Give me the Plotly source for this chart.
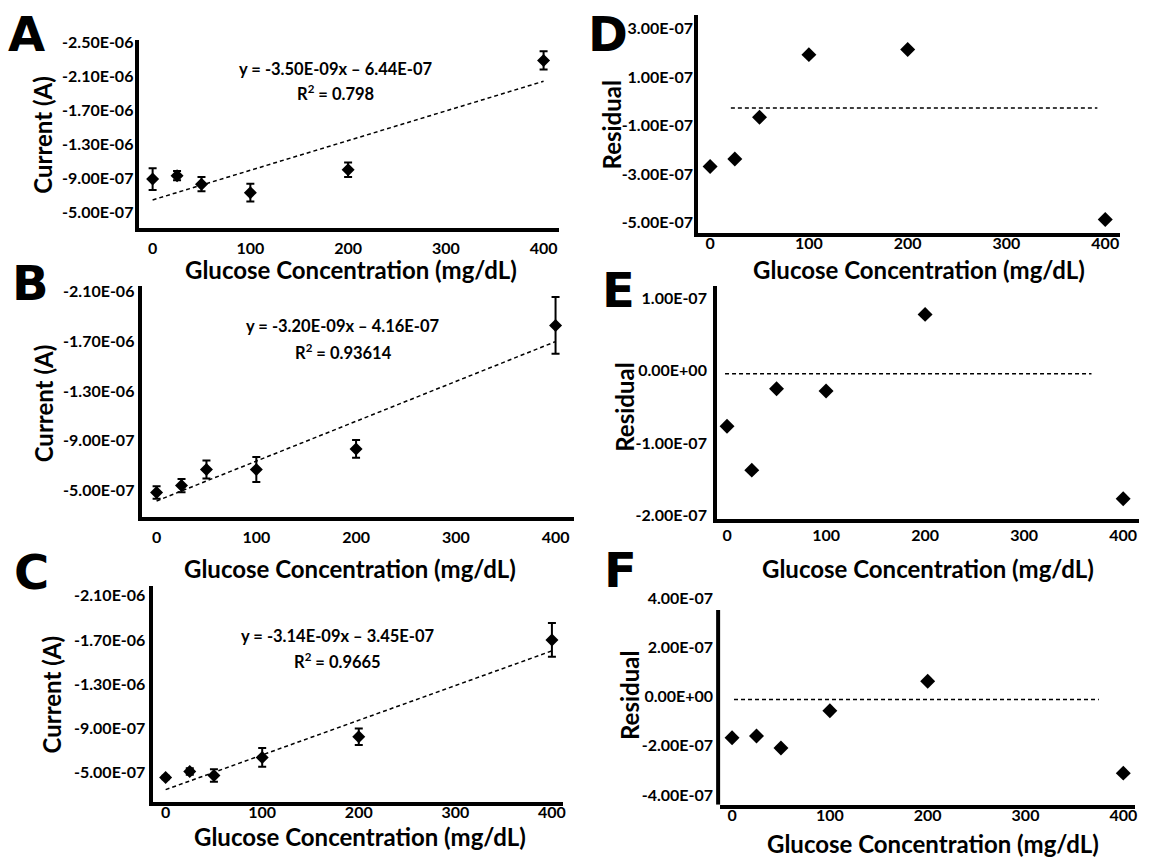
import plotly.graph_objects as go

W, H = 1151, 863

# ---------------- data ----------------
glucose = [0, 25, 50, 100, 200, 400]

current_A = [-8.9e-7, -9.3e-7, -8.3e-7, -7.3e-7, -1.0e-6, -2.29e-6]
error_A = [1.28e-7, 0.54e-7, 0.85e-7, 1.04e-7, 0.85e-7, 1.08e-7]
current_B = [-4.84e-7, -5.39e-7, -6.68e-7, -6.68e-7, -8.34e-7, -1.826e-6]
error_B = [0.5e-7, 0.53e-7, 0.72e-7, 1.0e-7, 0.72e-7, 2.28e-7]
current_C = [-4.55e-7, -5.09e-7, -4.73e-7, -6.37e-7, -8.24e-7, -1.70e-6]
error_C = [0.15e-7, 0.3e-7, 0.56e-7, 0.85e-7, 0.74e-7, 1.53e-7]

fit_slope = {"A": -3.50e-9, "B": -3.20e-9, "C": -3.14e-9}
fit_intercept = {"A": -6.44e-7, "B": -4.16e-7, "C": -3.45e-7}
fit_x = [0, 400]
eq_text = {"A": "y = -3.50E-09x – 6.44E-07", "B": "y = -3.20E-09x – 4.16E-07", "C": "y = -3.14E-09x – 3.45E-07"}
r2_text = {"A": "R<sup>2</sup> = 0.798", "B": "R<sup>2</sup> = 0.93614", "C": "R<sup>2</sup> = 0.9665"}

residual_D = [-2.68e-7, -2.37e-7, -0.66e-7, 1.92e-7, 2.13e-7, -4.86e-7]
residual_E = [-0.765e-7, -1.37e-7, -0.25e-7, -0.28e-7, 0.774e-7, -1.765e-7]
residual_F = [-1.67e-7, -1.6e-7, -2.09e-7, -0.57e-7, 0.63e-7, -3.11e-7]
ref_line_y = {"D": -0.28e-7, "E": -0.045e-7, "F": -0.12e-7}
ref_line_x = {"D": [21, 392], "E": [-2, 368], "F": [2, 375]}

x_ticks = [0, 100, 200, 300, 400]
x_ticktext = ["0", "100", "200", "300", "400"]
y_ticks_A = [-2.5e-6, -2.1e-6, -1.7e-6, -1.3e-6, -9.0e-7, -5.0e-7]
y_ticktext_A = ["-2.50E-06", "-2.10E-06", "-1.70E-06", "-1.30E-06", "-9.00E-07", "-5.00E-07"]
y_ticks_BC = [-2.1e-6, -1.7e-6, -1.3e-6, -9.0e-7, -5.0e-7]
y_ticktext_BC = ["-2.10E-06", "-1.70E-06", "-1.30E-06", "-9.00E-07", "-5.00E-07"]
y_ticks_D = [3e-7, 1e-7, -1e-7, -3e-7, -5e-7]
y_ticktext_D = ["3.00E-07", "1.00E-07", "-1.00E-07", "-3.00E-07", "-5.00E-07"]
y_ticks_E = [1e-7, 0, -1e-7, -2e-7]
y_ticktext_E = ["1.00E-07", "0.00E+00", "-1.00E-07", "-2.00E-07"]
y_ticks_F = [4e-7, 2e-7, 0, -2e-7, -4e-7]
y_ticktext_F = ["4.00E-07", "2.00E-07", "0.00E+00", "-2.00E-07", "-4.00E-07"]

x_title = "Glucose Concentration (mg/dL)"
y_title_main = "Current (A)"
y_title_res = "Residual"

# ---------------- geometry (pixels) ----------------
panels = {
    "A": dict(ax="", l=139, r=560, t=33, b=224, xr=[-14.3, 415.3], yr=[-3.085e-7, -2.5255e-6], xs=2, ys=-2,
              yt=y_ticks_A, ytt=y_ticktext_A),
    "B": dict(ax="2", l=142, r=576, t=283, b=517, xr=[-15, 419], yr=[-2.90e-7, -2.1395e-6], xs=3, ys=0,
              yt=y_ticks_BC, ytt=y_ticktext_BC),
    "C": dict(ax="3", l=153, r=564, t=588, b=807, xr=[-13.5, 411], yr=[-2.34e-7, -2.184e-6], xs=-7, ys=0,
              yt=y_ticks_BC, ytt=y_ticktext_BC),
    "D": dict(ax="4", l=700, r=1123, t=7, b=229, xr=[-12.1, 415], yr=[-5.43e-7, 3.555e-7], xs=-7, ys=-2,
              yt=y_ticks_D, ytt=y_ticktext_D),
    "E": dict(ax="5", l=719, r=1142, t=283, b=519, xr=[-10, 416], yr=[-2.037e-7, 1.159e-7], xs=-1, ys=3,
              yt=y_ticks_E, ytt=y_ticktext_E),
    "F": dict(ax="6", l=722, r=1138, t=594, b=810, xr=[-12.2, 412], yr=[-4.4e-7, 4.24e-7], xs=-7, ys=6,
              yt=y_ticks_F, ytt=y_ticktext_F),
}
F_axis_top = 3.52e-7

FONT = "Lato"
tickfont = dict(family=FONT, size=16, color="black", weight=700)

fig = go.Figure()
layout = dict(width=W, height=H, margin=dict(l=0, r=0, t=0, b=0),
              paper_bgcolor="white", plot_bgcolor="white", showlegend=False,
              annotations=[], shapes=[])

def px(x):
    return x / W

def py(y):
    return 1 - y / H

main_data = {"A": (current_A, error_A), "B": (current_B, error_B), "C": (current_C, error_C)}
res_data = {"D": residual_D, "E": residual_E, "F": residual_F}

for key, p in panels.items():
    xa = "x" + p["ax"]
    ya = "y" + p["ax"]
    layout["xaxis" + p["ax"]] = dict(
        domain=[px(p["l"]), px(p["r"])], range=p["xr"], anchor=ya,
        showgrid=False, zeroline=False, showline=True, linecolor="black", linewidth=4,
        ticks="", tickvals=x_ticks, ticktext=x_ticktext, tickfont=tickfont,
        ticklabelstandoff=p["xs"], fixedrange=True)
    layout["yaxis" + p["ax"]] = dict(
        domain=[py(p["b"]), py(p["t"])], range=p["yr"], anchor=xa,
        showgrid=False, zeroline=False, showline=(key != "F"), linecolor="black", linewidth=4,
        ticks="", tickvals=p["yt"], ticktext=p["ytt"], tickfont=tickfont,
        ticklabelstandoff=p["ys"], fixedrange=True)

    if key in main_data:
        ys, es = main_data[key]
        fig.add_trace(go.Scatter(
            x=glucose, y=ys, mode="markers", xaxis=xa, yaxis=ya,
            marker=dict(symbol="diamond", size=10, color="black"),
            error_y=dict(type="data", array=es, visible=True, color="black", thickness=2, width=4)))
        fit_y = [fit_slope[key] * xv + fit_intercept[key] for xv in fit_x]
        fig.add_trace(go.Scatter(
            x=fit_x, y=fit_y, mode="lines", xaxis=xa, yaxis=ya,
            line=dict(color="black", width=1.5, dash="4px,3px")))
    else:
        fig.add_trace(go.Scatter(
            x=ref_line_x[key], y=[ref_line_y[key]] * 2, mode="lines", xaxis=xa, yaxis=ya,
            line=dict(color="black", width=1.5, dash="4px,3px")))
        fig.add_trace(go.Scatter(
            x=glucose, y=res_data[key], mode="markers", xaxis=xa, yaxis=ya,
            marker=dict(symbol="diamond", size=11.5, color="black")))

# F y-axis line (shorter than the label range)
layout["shapes"].append(dict(type="line", xref="paper", yref="y6",
                             x0=px(panels["F"]["l"] - 2), x1=px(panels["F"]["l"] - 2),
                             y0=panels["F"]["yr"][0], y1=F_axis_top,
                             line=dict(color="black", width=4)))

def ann(text, x, y, size, family=FONT, angle=0):
    layout["annotations"].append(dict(
        text=text, x=px(x), y=py(y), xref="paper", yref="paper",
        xanchor="center", yanchor="middle", showarrow=False, textangle=angle,
        font=dict(family=family, size=size, color="black", weight=700)))

# panel letters
for letter, (lx, ly) in {"A": (27, 26), "B": (31, 280), "C": (32, 573),
                         "D": (610, 26), "E": (620, 287), "F": (622, 571)}.items():
    ann(letter, lx, ly, 48, family="DejaVu Sans")

# axis titles
for (tx, ty) in [(352, 266), (351, 570), (361, 842), (921, 266), (930, 570), (935, 849)]:
    ann(x_title, tx, ty, 24)
for (tx, ty) in [(43, 129), (44, 402), (52, 698)]:
    ann(y_title_main, tx, ty, 24, angle=-90)
for (tx, ty) in [(613, 119), (626, 406), (631, 699)]:
    ann(y_title_res, tx, ty, 24, angle=-90)

# equations
for key, (ex, ey, rx, ry) in {"A": (336, 62, 336, 86), "B": (343, 323, 344, 350),
                              "C": (338, 638, 338, 664)}.items():
    ann(eq_text[key], ex, ey, 16.5)
    ann(r2_text[key], rx, ry, 16.5)

fig.update_layout(**layout)
fig.write_html("out.html")
